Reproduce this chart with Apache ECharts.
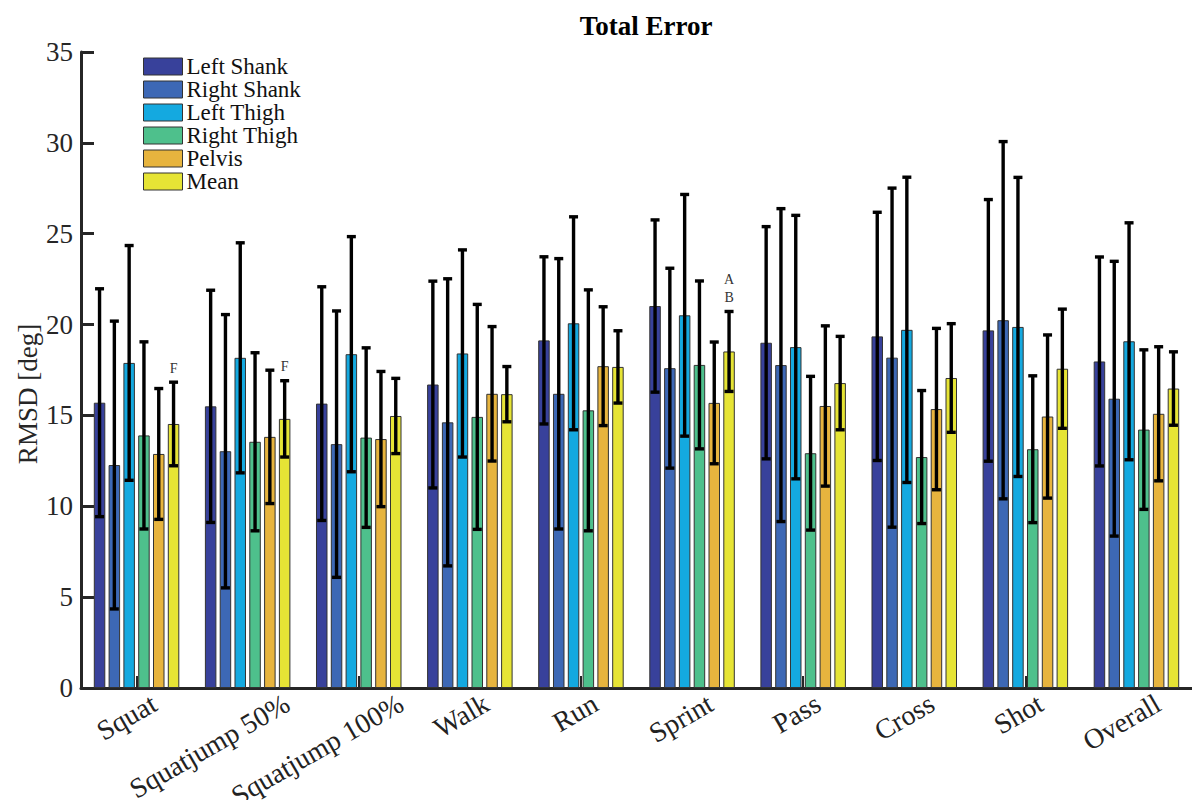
<!DOCTYPE html>
<html>
<head>
<meta charset="utf-8">
<title>Total Error</title>
<script src="https://cdn.jsdelivr.net/npm/echarts@6/dist/echarts.min.js"></script>
<style>
  html, body { margin: 0; padding: 0; background: #fff; }
  #chart { width: 1192px; height: 800px; }
</style>
</head>
<body>
<div id="chart"></div>
<script>
// Movement tasks on the x axis
const categories = ['Squat', 'Squatjump 50%', 'Squatjump 100%', 'Walk', 'Run', 'Sprint', 'Pass', 'Cross', 'Shot', 'Overall'];

// Segment names (legend order)
const segmentNames = ['Left Shank', 'Right Shank', 'Left Thigh', 'Right Thigh', 'Pelvis', 'Mean'];

// RMSD means [deg]
const leftShank  = [15.70, 15.50, 15.65, 16.70, 19.13, 21.02, 19.00, 19.35, 19.68, 17.97];
const rightShank = [12.27, 13.03, 13.42, 14.62, 16.19, 17.60, 17.77, 18.18, 20.24, 15.92];
const leftThigh  = [17.89, 18.17, 18.37, 18.41, 20.07, 20.51, 18.76, 19.71, 19.87, 19.08];
const rightThigh = [13.90, 13.55, 13.78, 14.92, 15.28, 17.78, 12.92, 12.71, 13.14, 14.22];
const pelvis     = [12.88, 13.82, 13.70, 16.19, 17.71, 15.69, 15.52, 15.35, 14.94, 15.09];
const meanError  = [14.53, 14.81, 14.97, 16.17, 17.67, 18.52, 16.78, 17.06, 17.57, 16.48];

// Standard deviations [deg]
const leftShankSD  = [6.27, 6.39, 6.43, 5.69, 4.60, 4.74, 6.39, 6.83, 7.20, 5.75];
const rightShankSD = [7.92, 7.52, 7.33, 7.90, 7.44, 5.50, 8.61, 9.33, 9.83, 7.56];
const leftThighSD  = [6.46, 6.33, 6.47, 5.70, 5.86, 6.65, 7.25, 8.40, 8.23, 6.52];
const rightThighSD = [5.15, 4.90, 4.94, 6.19, 6.63, 4.62, 4.23, 3.66, 4.04, 4.39];
const pelvisSD     = [3.60, 3.67, 3.72, 3.70, 3.27, 3.35, 4.41, 4.44, 4.49, 3.69];
const meanErrorSD  = [2.30, 2.10, 2.07, 1.52, 1.99, 2.20, 2.57, 2.99, 3.28, 2.02];

// Significance letters above the mean bars
const meanMarks = ['F', 'F', '', '', '', 'A\nB', '', '', '', ''];

// Y axis ticks
const yTicks = [0, 5, 10, 15, 20, 25, 30, 35];

const segmentMeans = [leftShank, rightShank, leftThigh, rightThigh, pelvis, meanError];
const segmentSDs = [leftShankSD, rightShankSD, leftThighSD, rightThighSD, pelvisSD, meanErrorSD];
const segmentMarks = [null, null, null, null, null, meanMarks];
const colors = ['#38419b', '#3d68b5', '#14a9e0', '#4ec08c', '#e7b43e', '#e6e435'];

const FONT = '"Liberation Serif", "Times New Roman", serif';
const BAR_W = 11.5;
const GAP_RATIO = 0.287;
const PITCH = BAR_W * (1 + GAP_RATIO);
const N_SEG = segmentNames.length;
const XLABEL_SIZE = 28;

const measureCtx = document.createElement('canvas').getContext('2d');
measureCtx.font = XLABEL_SIZE + 'px ' + FONT;
function textWidth(t) { return measureCtx.measureText(t).width; }

const chart = echarts.init(document.getElementById('chart'), null, { renderer: 'svg' });

const barSeries = segmentNames.map((name, s) => ({
  name: name,
  type: 'bar',
  barWidth: BAR_W,
  barGap: (GAP_RATIO * 100) + '%',
  data: segmentMeans[s],
  itemStyle: { color: colors[s], borderColor: '#333', borderWidth: 1 },
  emphasis: { disabled: true },
  z: 2
}));

// Error bars (mean ± SD) with caps, one per segment
const errorSeries = segmentNames.map((name, s) => ({
  type: 'custom',
  name: name + ' SD',
  silent: true,
  z: 3,
  itemStyle: { color: '#000' },
  encode: { x: 0, y: 1 },
  data: segmentMeans[s].map((m, i) => [i, m, segmentSDs[s][i]]),
  renderItem: function (params, api) {
    const i = api.value(0);
    const m = api.value(1);
    const sd = api.value(2);
    const off = (s - (N_SEG - 1) / 2) * PITCH;
    const top = api.coord([i, m + sd]);
    const bot = api.coord([i, m - sd]);
    const x = top[0] + off;
    const half = 4.5;
    const lineStyle = { stroke: '#000', lineWidth: 3.4 };
    const children = [
      { type: 'line', shape: { x1: x, y1: top[1], x2: x, y2: bot[1] }, style: lineStyle },
      { type: 'line', shape: { x1: x - half, y1: top[1], x2: x + half, y2: top[1] }, style: lineStyle },
      { type: 'line', shape: { x1: x - half, y1: bot[1], x2: x + half, y2: bot[1] }, style: lineStyle }
    ];
    const marks = segmentMarks[s];
    if (marks && marks[params.dataIndex]) {
      children.push({
        type: 'text',
        x: x,
        y: top[1] - 5,
        style: {
          text: marks[params.dataIndex],
          font: '14px ' + FONT,
          fill: '#333',
          align: 'center',
          verticalAlign: 'bottom',
          lineHeight: 18
        }
      });
    }
    return { type: 'group', children: children };
  }
}));

// Rotated category labels under the axis
const labelSeries = {
  type: 'custom',
  silent: true,
  z: 4,
  itemStyle: { color: '#222' },
  encode: { x: 0, y: 1 },
  data: categories.map((c, i) => [i, 0]),
  renderItem: function (params, api) {
    const i = api.value(0);
    const p = api.coord([i, 0]);
    const text = categories[i];
    const w = textWidth(text);
    return {
      type: 'text',
      x: p[0] - 1.5 + 0.19 * w,
      y: p[1] + 1,
      rotation: Math.PI / 6,
      style: {
        text: text,
        font: XLABEL_SIZE + 'px ' + FONT,
        fill: '#222',
        align: 'right',
        verticalAlign: 'top'
      }
    };
  }
};

chart.setOption({
  animation: false,
  backgroundColor: '#fff',
  title: {
    text: 'Total Error',
    left: 646,
    top: 12,
    textAlign: 'center',
    padding: 0,
    textStyle: { fontFamily: FONT, fontSize: 27, fontWeight: 'bold', color: '#000' }
  },
  legend: {
    orient: 'vertical',
    left: 143,
    top: 55,
    data: segmentNames,
    icon: 'rect',
    itemWidth: 39,
    itemHeight: 17,
    itemGap: 0,
    padding: 0,
    selectedMode: false,
    itemStyle: { borderColor: '#333', borderWidth: 1 },
    textStyle: { fontFamily: FONT, fontSize: 23, color: '#111', padding: [0, 0, 0, -1] }
  },
  grid: { left: 81, right: 0, top: 52, bottom: 112, containLabel: false },
  xAxis: {
    type: 'category',
    data: categories,
    axisLine: { lineStyle: { color: '#262626', width: 3 } },
    axisTick: { show: true, inside: true, alignWithLabel: true, length: 12, lineStyle: { color: '#262626', width: 2 } },
    axisLabel: { show: false },
    splitLine: { show: false }
  },
  yAxis: {
    type: 'value',
    min: yTicks[0],
    max: yTicks[yTicks.length - 1],
    interval: yTicks[1] - yTicks[0],
    axisLine: { show: true, lineStyle: { color: '#262626', width: 3 } },
    axisTick: { show: true, inside: true, length: 13, lineStyle: { color: '#262626', width: 3 } },
    axisLabel: { fontFamily: FONT, fontSize: 27, color: '#262626', margin: 8 },
    splitLine: { show: false }
  },
  graphic: [{
    type: 'text',
    x: 28,
    y: 394,
    rotation: Math.PI / 2,
    style: {
      text: 'RMSD [deg]',
      font: '27px ' + FONT,
      fill: '#262626',
      align: 'center',
      verticalAlign: 'middle'
    }
  }],
  series: barSeries.concat(errorSeries, [labelSeries])
});
</script>
</body>
</html>
